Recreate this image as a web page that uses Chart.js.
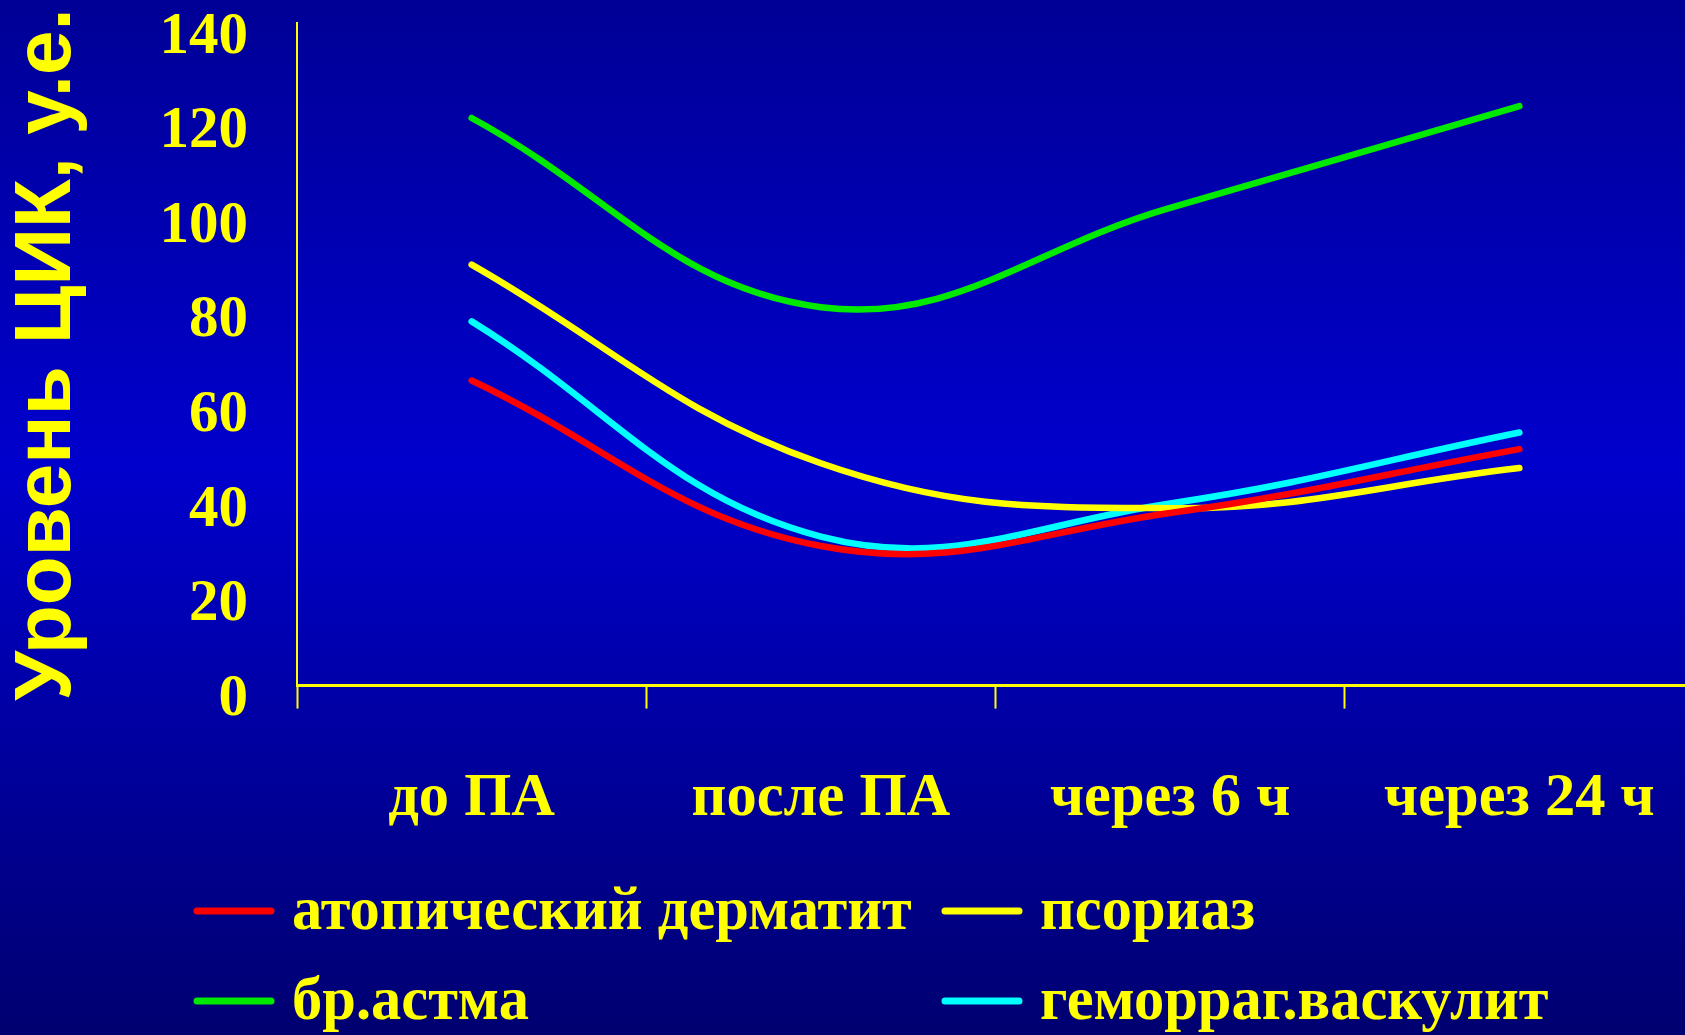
<!DOCTYPE html>
<html lang="ru">
<head>
<meta charset="utf-8">
<title>Уровень ЦИК</title>
<script src="https://cdn.jsdelivr.net/npm/chart.js@4.4.1/dist/chart.umd.min.js"></script>
<style>
  html, body { margin: 0; padding: 0; overflow: hidden; background: #0000a0; }
  canvas { display: block; }
</style>
</head>
<body>
<canvas id="chart" width="1694" height="1035"></canvas>
<script>
// Time points of the measurement
const categories = ['до ПА', 'после ПА', 'через 6 ч', 'через 24 ч'];

// Level of circulating immune complexes, conventional units
const atopicDermatitis = [64.5, 29.5, 36.5, 50];
const psoriasis        = [89, 47, 37.5, 46];
const bronchialAsthma  = [120, 80, 101, 122.5];
const vasculitis       = [77, 31.5, 38.5, 53.5];

const seriesNames = ['атопический дерматит', 'псориаз', 'бр.астма', 'геморраг.васкулит'];
const seriesColors = ['#ff0000', '#ffff00', '#00ea00', '#00ffff'];

const yTicks = [0, 20, 40, 60, 80, 100, 120, 140];
const yTitle = 'Уровень ЦИК, у.е.';

const YELLOW = '#ffff00';
const SERIF = '"Liberation Serif", "Times New Roman", serif';
const SANS = '"Liberation Sans", Arial, sans-serif';

// Vertical blue gradient behind everything
const backdrop = {
  id: 'backdrop',
  beforeDraw(chart) {
    const { ctx, width, height } = chart;
    const g = ctx.createLinearGradient(0, 0, 0, height);
    g.addColorStop(0, 'rgb(0,0,150)');
    g.addColorStop(0.45, 'rgb(0,0,205)');
    g.addColorStop(1, 'rgb(0,0,112)');
    ctx.save();
    ctx.fillStyle = g;
    ctx.fillRect(0, 0, width, height);
    ctx.restore();
  }
};

// Two-column legend under the axis
const gridLegend = {
  id: 'gridLegend',
  afterDraw(chart, args, opts) {
    const { ctx } = chart;
    ctx.save();
    ctx.font = opts.font;
    ctx.textBaseline = 'middle';
    ctx.textAlign = 'left';
    ctx.lineCap = 'round';
    chart.data.datasets.forEach((ds, i) => {
      const col = i % 2, row = Math.floor(i / 2);
      const x = opts.columns[col];
      const y = opts.rows[row];
      ctx.strokeStyle = ds.borderColor;
      ctx.lineWidth = opts.lineWidth;
      ctx.beginPath();
      ctx.moveTo(x, y);
      ctx.lineTo(x + opts.lineLength, y);
      ctx.stroke();
      ctx.fillStyle = opts.color;
      ctx.fillText(ds.label, x + opts.lineLength + opts.gap, y + 2);
    });
    ctx.restore();
  }
};

const seriesData = [atopicDermatitis, psoriasis, bronchialAsthma, vasculitis];

new Chart(document.getElementById('chart'), {
  type: 'line',
  data: {
    labels: categories,
    datasets: seriesData.map((values, i) => ({
      label: seriesNames[i],
      data: values,
      borderColor: seriesColors[i],
      backgroundColor: seriesColors[i],
      borderWidth: 6.5,
      borderCapStyle: 'round',
      borderJoinStyle: 'round',
      tension: 0.4,
      pointRadius: 0,
      fill: false
    }))
  },
  options: {
    responsive: false,
    animation: false,
    devicePixelRatio: 1,
    layout: { padding: { top: 23.4, left: 0, right: 0, bottom: 0 } },
    plugins: {
      legend: { display: false },
      tooltip: { enabled: false },
      gridLegend: {
        font: 'bold 60.5px ' + SERIF,
        color: YELLOW,
        columns: [197, 945],
        rows: [911, 1001],
        lineLength: 74,
        lineWidth: 7,
        gap: 21
      }
    },
    scales: {
      x: {
        type: 'category',
        offset: true,
        afterFit(scale) {
          scale.height = 349.4;
          scale.paddingLeft = 0;
          scale.paddingRight = 0;
        },
        grid: {
          display: true,
          offset: true,
          drawOnChartArea: false,
          drawTicks: true,
          tickLength: 23,
          tickWidth: 2,
          tickColor: YELLOW,
          color: YELLOW
        },
        border: { display: true, color: YELLOW, width: 3 },
        ticks: {
          color: YELLOW,
          padding: 54,
          maxRotation: 0,
          autoSkip: false,
          font: { family: SERIF, size: 60.5, weight: 'bold', lineHeight: 1.2 }
        }
      },
      y: {
        min: 0,
        max: 140,
        afterFit(scale) {
          scale.width = 297;
          scale.paddingTop = 0;
          scale.paddingBottom = 0;
        },
        afterBuildTicks(scale) { scale.ticks = yTicks.map(v => ({ value: v })); },
        grid: { display: false, drawTicks: false },
        border: { display: true, color: YELLOW, width: 2 },
        ticks: {
          color: YELLOW,
          padding: 49,
          labelOffset: 14,
          font: { family: SERIF, size: 59, weight: 'bold', lineHeight: 0.6 }
        },
        title: {
          display: true,
          text: yTitle,
          color: YELLOW,
          padding: { top: 4, bottom: 0 },
          font: { family: SANS, size: 80, weight: 'bold', lineHeight: 1.1 }
        }
      }
    }
  },
  plugins: [backdrop, gridLegend]
});
</script>
</body>
</html>
